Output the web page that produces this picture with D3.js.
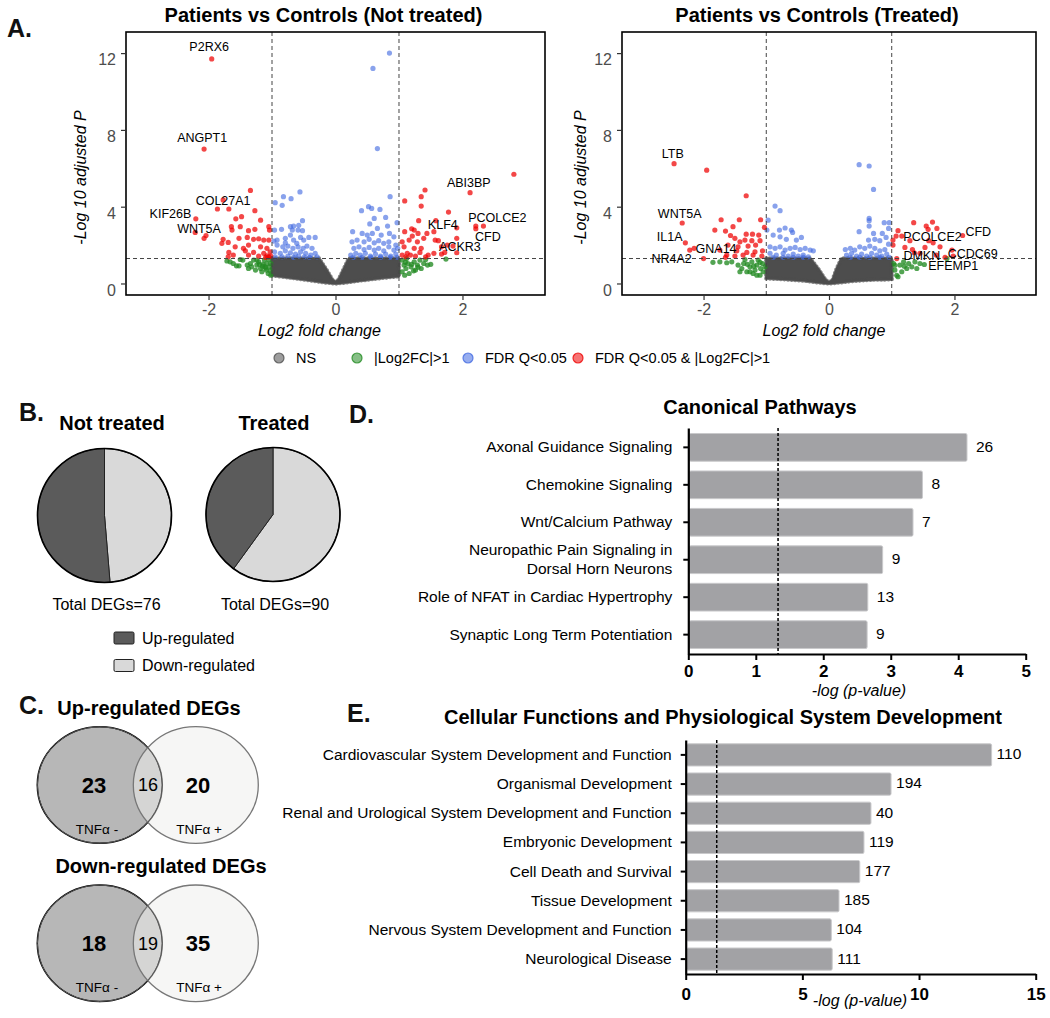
<!DOCTYPE html>
<html>
<head>
<meta charset="utf-8">
<script src="https://cdn.jsdelivr.net/npm/d3@7"></script>
<style>
  body { margin: 0; background: #fff; }
  svg { font-family: "Liberation Sans", Arial, Helvetica, sans-serif; }
</style>
</head>
<body>
<svg id="fig" width="1050" height="1018"></svg>
<script>
// ---------------- A. volcano plots ----------------
var volcanoTitles = ["Patients vs Controls (Not treated)", "Patients vs Controls (Treated)"];
var fcDomain = [-3.3, 3.3];
var pDomain = [-0.6, 13.1];
var fcTicks = [-2, 0, 2];
var pTicks = [0, 4, 8, 12];
var fcCut = 1, pCut = 1.3;
var legendLabels = ["NS", "|Log2FC|>1", "FDR Q<0.05", "FDR Q<0.05 & |Log2FC|>1"];

// dense non-significant cloud, outline of the point mass
var untreatedNsTop = [[-1.0,1.3],[-0.26,1.3],[-0.15,0.75],[-0.05,0.2],[0,0.08],[0.05,0.2],[0.13,0.75],[0.21,1.3],[1.0,1.3]];
var untreatedNsBottom = [[1.0,0.38],[0.7,0.28],[0.4,0.16],[0.15,0.05],[0,0],[-0.15,0.05],[-0.4,0.17],[-0.7,0.3],[-1.0,0.43]];
var treatedNsTop = [[-1.0,1.3],[-0.3,1.3],[-0.17,0.75],[-0.06,0.2],[0,0.05],[0.06,0.2],[0.12,0.75],[0.2,1.3],[1.0,1.3]];
var treatedNsBottom = [[1.0,0.22],[0.7,0.2],[0.4,0.14],[0.15,0.05],[0,0],[-0.15,0.05],[-0.4,0.15],[-0.7,0.22],[-1.0,0.27]];

var untreatedRed = [[-1.95,11.7],[-2.07,7.0],[-1.34,4.85],[-1.77,4.35],[-1.86,3.88],[-1.68,3.88],[-1.27,3.79],[-2.2,3.37],
  [-2.21,2.66],[-2.04,2.5],[-2.07,2.35],[-1.57,3.37],[-1.48,3.48],[-1.18,3.3],[-1.64,2.96],[-1.5,2.96],[-1.63,2.78],
  [-1.37,2.75],[-1.27,2.82],[-1.05,2.96],[-1.04,2.78],[-1.77,2.3],[-1.69,2.14],[-1.52,2.35],[-1.39,2.4],[-1.29,2.3],
  [-1.21,2.33],[-1.13,2.26],[-1.05,2.26],[-1.79,2.09],[-1.58,1.91],[-1.45,1.83],[-1.37,2.0],[-1.18,1.91],[-1.08,1.83],
  [-1.68,1.62],[-1.42,1.7],[-1.29,1.62],[-1.13,1.57],[-1.03,1.65],[-1.61,1.48],[-1.37,1.48],[-1.21,1.43],[-1.08,1.44],
  [-1.05,1.39],[-1.02,1.43],[-1.1,1.36],[-1.69,1.39],
  [2.81,5.69],[2.12,4.73],[1.41,4.87],[1.35,4.52],[1.09,4.3],[1.35,4.03],[1.78,3.72],[1.31,3.27],[1.58,3.27],[1.55,2.7],
  [1.91,2.9],[2.21,2.99],[2.33,2.99],[2.21,2.85],[1.2,2.85],[1.09,2.7],[1.24,2.78],[1.44,2.61],[1.21,2.47],[1.3,2.61],
  [1.39,2.35],[1.57,2.26],[1.62,2.23],[1.91,2.35],[1.05,2.17],[1.16,2.26],[1.29,2.17],[1.67,1.91],[1.76,2.0],[1.85,1.95],
  [1.08,1.91],[1.24,1.83],[1.35,1.83],[1.91,1.6],[1.55,1.57],[1.67,1.53],[1.72,1.62],[1.13,1.57],[1.18,1.48],[1.33,1.62],
  [1.46,1.48],[1.05,1.48],[1.11,1.39],[1.26,1.43],[1.42,1.39]];
var untreatedGreen = [[-1.71,1.17],[-1.66,1.13],[-1.61,1.04],[-1.56,0.92],[-1.52,0.92],[-1.5,1.25],[-1.39,0.96],[-1.37,0.78],
  [-1.34,1.04],[-1.32,0.87],[-1.29,1.22],[-1.26,0.7],[-1.24,0.96],[-1.21,1.13],[-1.18,0.78],[-1.16,0.61],[-1.14,1.0],
  [-1.12,1.22],[-1.11,0.87],[-1.09,0.7],[-1.08,1.04],[-1.06,0.52],[-1.05,1.25],[-1.04,0.87],[-1.03,0.66],[-1.02,1.04],
  [-1.02,0.43],[-1.24,1.22],[-1.46,1.22],[-1.2,1.0],[-1.1,0.8],[-1.15,0.9],
  [1.05,1.22],[1.08,0.96],[1.05,0.61],[1.11,0.78],[1.14,1.04],[1.16,0.52],[1.19,0.87],[1.24,1.13],[1.26,0.7],[1.29,0.96],
  [1.33,1.22],[1.35,0.78],[1.39,1.04],[1.42,1.25],[1.45,0.96],[1.5,1.0],[1.74,1.27],[1.12,1.3],[1.23,0.66],[1.09,0.43],
  [1.1,1.1],[1.2,1.0],[1.3,0.85]];
var untreatedBlue = [[-0.95,4.21],[-0.82,4.52],[-0.7,4.42],[-0.56,4.77],[-0.84,4.07],[-0.96,2.78],[-0.85,2.82],[-0.71,2.96],
  [-0.66,2.99],[-0.58,3.03],[-0.52,3.27],[-0.68,2.78],[-0.59,2.78],[-0.52,2.75],[-0.97,2.21],[-0.92,2.26],[-0.79,2.35],
  [-0.71,2.52],[-0.66,2.26],[-0.55,2.4],[-0.5,2.26],[-0.42,2.4],[-0.32,2.4],[-0.92,2.0],[-0.83,1.91],[-0.75,1.95],
  [-0.67,1.83],[-0.59,1.91],[-0.51,1.83],[-0.45,1.95],[-0.37,1.83],[-0.96,1.65],[-0.87,1.57],[-0.79,1.7],[-0.71,1.6],
  [-0.63,1.53],[-0.55,1.65],[-0.47,1.57],[-0.39,1.48],[-0.32,1.57],[-0.95,1.39],[-0.84,1.39],[-0.75,1.43],[-0.66,1.36],
  [-0.58,1.43],[-0.49,1.39],[-0.41,1.36],[-0.29,1.39],[-0.79,2.12],[-0.61,2.09],
  [0.85,12.0],[0.59,11.2],[0.66,7.03],[0.86,4.52],[0.41,3.79],[0.52,4.0],[0.57,3.91],[0.7,3.86],[0.79,3.44],[0.97,3.17],
  [0.61,3.39],[0.54,3.1],[0.66,2.87],[0.82,2.99],[0.27,2.7],[0.42,2.61],[0.5,2.52],[0.58,2.61],[0.72,2.52],[0.85,2.61],
  [0.92,2.43],[0.26,2.17],[0.34,2.26],[0.45,2.17],[0.53,2.3],[0.61,2.12],[0.68,2.23],[0.76,2.09],[0.84,2.17],[0.95,2.0],
  [0.29,1.83],[0.37,1.91],[0.45,1.77],[0.53,1.88],[0.61,1.74],[0.68,1.83],[0.76,1.7],[0.84,1.91],[0.92,1.74],[0.98,1.83],
  [0.24,1.48],[0.32,1.57],[0.39,1.48],[0.47,1.57],[0.55,1.43],[0.63,1.53],[0.71,1.43],[0.79,1.53],[0.87,1.43],[0.95,1.53],
  [0.28,1.36],[0.42,1.36],[0.56,1.36],[0.71,1.36],[0.86,1.36],[0.97,1.36]];
var untreatedGenes = [["P2RX6",-1.99,12.33],["ANGPT1",-2.1,7.6],["COL27A1",-1.77,4.31],["KIF26B",-2.6,3.65],["WNT5A",-2.15,2.87],
  ["ABI3BP",2.1,5.27],["KLF4",1.69,3.04],["PCOLCE2",2.55,3.42],["CFD",2.4,2.42],["ACKR3",1.96,1.93]];

var treatedRed = [[-2.47,6.24],[-1.95,5.9],[-1.32,4.57],[-2.34,3.15],[-2.29,2.12],[-2.22,1.74],[-2.15,1.83],[-2.0,1.3],
  [-1.72,3.32],[-1.43,3.32],[-1.09,3.32],[-1.03,2.92],[-1.82,2.78],[-1.65,2.73],[-1.53,2.96],[-1.57,2.5],[-1.5,2.35],
  [-1.32,2.57],[-1.22,2.57],[-1.12,2.52],[-1.42,2.17],[-1.34,2.26],[-1.23,2.23],[-1.1,2.23],[-1.61,2.0],[-1.45,1.91],
  [-1.29,1.95],[-1.17,2.0],[-1.74,1.74],[-1.47,1.7],[-1.31,1.62],[-1.18,1.65],[-1.06,1.7],[-1.63,1.48],[-1.5,1.43],
  [-1.37,1.48],[-1.21,1.48],[-1.07,1.43],[-1.65,1.36],
  [2.13,2.5],[1.35,3.17],[1.65,3.2],[1.55,2.99],[1.72,2.87],[1.58,2.82],[1.1,2.75],[1.07,2.47],[1.16,2.47],[1.02,2.26],
  [1.21,1.88],[1.29,2.23],[1.33,1.77],[1.53,1.88],[1.59,2.23],[1.66,2.12],[1.77,1.91],[1.96,1.74],[1.98,1.43],[1.36,1.6],
  [1.45,1.57],[1.71,1.48],[1.85,1.36],[1.08,1.3],[1.02,2.0]];
var treatedGreen = [[-1.85,1.1],[-1.74,1.13],[-1.63,1.08],[-1.55,1.13],[-1.45,0.96],[-1.39,0.78],[-1.36,1.04],[-1.31,0.61],
  [-1.26,0.87],[-1.23,1.13],[-1.21,0.52],[-1.18,0.7],[-1.15,0.96],[-1.13,1.22],[-1.1,0.43],[-1.09,0.78],[-1.06,1.04],
  [-1.05,0.61],[-1.02,0.87],[-1.26,0.61],[-1.42,0.61],[-1.15,0.43],[-1.34,1.25],[-1.3,1.0],[-1.2,0.9],[-1.1,1.1],
  [1.03,1.04],[1.05,0.7],[1.08,0.43],[1.13,0.96],[1.16,0.61],[1.19,1.13],[1.24,0.78],[1.27,1.04],[1.32,0.87],[1.37,1.13],
  [1.4,0.78],[1.45,1.04],[1.52,0.99],[1.1,0.35],[1.88,1.3],[1.05,0.95],[1.2,0.9]];
var treatedBlue = [[-0.86,4.03],[-0.78,3.79],[-0.7,2.89],[-0.79,2.78],[-0.6,2.78],[-0.58,2.66],[-0.97,3.3],[-0.99,2.78],
  [-0.89,2.52],[-0.78,2.43],[-0.68,2.3],[-0.52,2.26],[-0.44,2.4],[-0.94,1.91],[-0.86,1.83],[-0.78,1.91],[-0.7,1.74],
  [-0.62,1.83],[-0.54,1.88],[-0.46,1.77],[-0.38,1.83],[-0.3,1.74],[-0.25,1.7],[-0.94,1.57],[-0.84,1.48],[-0.73,1.57],
  [-0.65,1.43],[-0.57,1.53],[-0.49,1.43],[-0.41,1.48],[-0.33,1.39],[-0.89,1.36],[-0.73,1.36],[-0.57,1.36],[-0.41,1.36],
  [0.48,6.19],[0.64,6.12],[0.71,4.9],[0.64,3.39],[0.64,3.27],[0.64,2.99],[0.88,3.17],[0.96,3.17],[0.95,2.87],[0.48,2.7],
  [0.71,2.61],[0.85,2.61],[0.63,2.26],[0.73,2.3],[0.81,2.23],[0.91,2.4],[0.95,2.05],[0.26,1.77],[0.34,1.83],[0.41,1.74],
  [0.49,1.91],[0.57,1.83],[0.65,1.95],[0.73,1.83],[0.81,1.7],[0.89,1.77],[0.28,1.48],[0.36,1.57],[0.44,1.43],[0.52,1.53],
  [0.6,1.43],[0.68,1.57],[0.76,1.48],[0.84,1.43],[0.92,1.53],[0.34,1.36],[0.49,1.36],[0.65,1.36],[0.81,1.36],[0.96,1.36]];
var treatedGenes = [["LTB",-2.49,6.77],["WNT5A",-2.38,3.62],["IL1A",-2.54,2.42],["GNA14",-1.8,1.81],["NR4A2",-2.51,1.3],
  ["PCOLCE2",1.65,2.45],["CFD",2.38,2.71],["CCDC69",2.29,1.58],["DMKN",1.48,1.44],["EFEMP1",1.98,0.92]];

// ---------------- B. pies / C. venn ----------------
var pieTitles = ["Not treated", "Treated"];
var upCounts = [39, 36];
var downCounts = [37, 54];
var pieLegend = ["Up-regulated", "Down-regulated"];

var vennTitles = ["Up-regulated DEGs", "Down-regulated DEGs"];
var vennOnlyMinus = [23, 18];
var vennShared = [16, 19];
var vennOnlyPlus = [20, 35];
var vennSets = ["TNFα -", "TNFα +"];

// ---------------- D. / E. bar charts ----------------
var pathways = ["Axonal Guidance Signaling", "Chemokine Signaling", "Wnt/Calcium Pathway",
  "Neuropathic Pain Signaling in\nDorsal Horn Neurons", "Role of NFAT in Cardiac Hypertrophy", "Synaptic Long Term Potentiation"];
var pathwayScores = [4.13, 3.47, 3.33, 2.88, 2.66, 2.65];
var pathwayCounts = [26, 8, 7, 9, 13, 9];
var pathwayTicks = [0, 1, 2, 3, 4, 5];

var functions = ["Cardiovascular System Development and Function", "Organismal Development",
  "Renal and Urological System Development and Function", "Embryonic Development", "Cell Death and Survival",
  "Tissue Development", "Nervous System Development and Function", "Neurological Disease"];
var functionScores = [13.11, 8.8, 7.94, 7.64, 7.46, 6.57, 6.24, 6.28];
var functionCounts = [110, 194, 40, 119, 177, 185, 104, 111];
var functionTicks = [0, 5, 10, 15];
var pThreshold = 1.33;

var svg = d3.select("#fig");

function panelLetter(txt, x, y) {
  svg.append("text").attr("x", x).attr("y", y).text(txt)
    .attr("font-size", 25).attr("font-weight", "bold").attr("fill", "#111");
}

// ================= A =================
var colNS = "#4d4d4d", colGreen = "#228B22", colBlue = "#4169E1", colRed = "#EE0000";
var volTop = 32, volBottom = 295;

function drawVolcano(cfg) {
  var x = d3.scaleLinear().domain(fcDomain).range([cfg.left, cfg.right]);
  var y = d3.scaleLinear().domain(pDomain).range([volBottom, volTop]);
  var g = svg.append("g");
  var mid = (cfg.left + cfg.right) / 2;

  g.append("text").attr("x", mid - 12).attr("y", 22).attr("text-anchor", "middle")
    .attr("font-size", 20).attr("font-weight", "bold").text(cfg.title);

  // NS cloud: filled outline + dotted rim so the edge reads like packed points
  var line = d3.line().x(function(d) { return x(d[0]); }).y(function(d) { return y(d[1]); }).curve(d3.curveLinearClosed);
  var ns = cfg.nsTop.concat(cfg.nsBottom);
  g.append("path").datum(ns).attr("d", line)
    .attr("fill", colNS).attr("stroke", colNS).attr("stroke-width", 2).attr("stroke-linejoin", "round");
  g.append("path").datum(ns).attr("d", line)
    .attr("fill", "none").attr("stroke", colNS).attr("stroke-opacity", 0.7).attr("stroke-width", 4.5)
    .attr("stroke-linecap", "round").attr("stroke-dasharray", "0.1,3.5");

  var groups = [[cfg.green, colGreen, 0.78], [cfg.blue, colBlue, 0.62], [cfg.red, colRed, 0.72]];
  groups.forEach(function(gr) {
    g.append("g").selectAll("circle").data(gr[0]).enter().append("circle")
      .attr("cx", function(d) { return x(d[0]); })
      .attr("cy", function(d) { return y(d[1]); })
      .attr("r", 2.6).attr("fill", gr[1]).attr("fill-opacity", gr[2]);
  });

  // cut-off lines
  [-fcCut, fcCut].forEach(function(v) {
    g.append("line").attr("x1", x(v)).attr("x2", x(v)).attr("y1", volTop).attr("y2", volBottom)
      .attr("stroke", "#444").attr("stroke-width", 1).attr("stroke-dasharray", "4,3");
  });
  g.append("line").attr("x1", cfg.left).attr("x2", cfg.right).attr("y1", y(pCut)).attr("y2", y(pCut))
    .attr("stroke", "#444").attr("stroke-width", 1).attr("stroke-dasharray", "4,3");

  // gene labels
  g.selectAll("text.gene").data(cfg.genes).enter().append("text")
    .attr("x", function(d) { return x(d[1]); }).attr("y", function(d) { return y(d[2]); })
    .attr("dy", "0.35em").attr("text-anchor", "middle").attr("font-size", 12.5).attr("fill", "#000")
    .text(function(d) { return d[0]; });

  // frame
  g.append("rect").attr("x", cfg.left).attr("y", volTop).attr("width", cfg.right - cfg.left)
    .attr("height", volBottom - volTop).attr("fill", "none").attr("stroke", "#000").attr("stroke-width", 1.6);

  var ax = g.append("g").attr("transform", "translate(0," + volBottom + ")")
    .call(d3.axisBottom(x).tickValues(fcTicks).tickSize(5).tickPadding(4).tickFormat(function(d) { return String(d); }));
  var ay = g.append("g").attr("transform", "translate(" + cfg.left + ",0)")
    .call(d3.axisLeft(y).tickValues(pTicks).tickSize(5).tickPadding(5).tickFormat(function(d) { return String(d); }));
  [ax, ay].forEach(function(a) {
    a.select(".domain").remove();
    a.selectAll("line").attr("stroke", "#333").attr("stroke-width", 1.2);
    a.selectAll("text").attr("font-size", 16).attr("fill", "#4d4d4d").attr("font-family", null);
  });
  ay.selectAll("text").attr("dy", "0.72em");

  g.append("text").attr("x", mid + cfg.xLabelShift).attr("y", 336).attr("text-anchor", "middle")
    .attr("font-size", 16).attr("font-style", "italic").text("Log2 fold change");
  g.append("text").attr("transform", "translate(" + (cfg.left - cfg.yLabelGap) + "," + ((volTop + volBottom) / 2 + 14) + ") rotate(-90)")
    .attr("text-anchor", "middle").attr("font-size", 16).attr("font-style", "italic").text("-Log 10 adjusted P");
}

drawVolcano({title: volcanoTitles[0], left: 126, right: 545, red: untreatedRed, green: untreatedGreen, blue: untreatedBlue,
  nsTop: untreatedNsTop, nsBottom: untreatedNsBottom, genes: untreatedGenes, xLabelShift: -16, yLabelGap: 40});
drawVolcano({title: volcanoTitles[1], left: 622, right: 1036, red: treatedRed, green: treatedGreen, blue: treatedBlue,
  nsTop: treatedNsTop, nsBottom: treatedNsBottom, genes: treatedGenes, xLabelShift: -5, yLabelGap: 36});
panelLetter("A.", 7, 37);

// volcano legend
var legX = [279, 357, 468, 578];
var legCols = [colNS, colGreen, colBlue, colRed];
var leg = svg.append("g");
leg.selectAll("circle").data(legendLabels).enter().append("circle")
  .attr("cx", function(d, i) { return legX[i]; }).attr("cy", 358).attr("r", 5)
  .attr("fill", function(d, i) { return legCols[i]; }).attr("fill-opacity", 0.55)
  .attr("stroke", function(d, i) { return legCols[i]; }).attr("stroke-opacity", 0.8).attr("stroke-width", 1.2);
leg.selectAll("text").data(legendLabels).enter().append("text")
  .attr("x", function(d, i) { return legX[i] + 17; }).attr("y", 363).attr("font-size", 14.5).text(function(d) { return d; });

// ================= B =================
panelLetter("B.", 19, 421);
var pieCenters = [[104.5, 515.5], [273, 514.5]];
var pie = d3.pie().sort(null).value(function(d) { return d.v; });
var arc = d3.arc().innerRadius(0).outerRadius(67);
pieTitles.forEach(function(t, i) {
  var c = pieCenters[i];
  var gp = svg.append("g").attr("transform", "translate(" + c[0] + "," + c[1] + ")");
  gp.selectAll("path").data(pie([{k: "down", v: downCounts[i]}, {k: "up", v: upCounts[i]}])).enter().append("path")
    .attr("d", arc).attr("fill", function(d) { return d.data.k === "up" ? "#5b5b5b" : "#d9d9d9"; })
    .attr("stroke", "#222").attr("stroke-width", 1);
  gp.append("circle").attr("r", 67).attr("fill", "none").attr("stroke", "#000").attr("stroke-width", 1.6);
  svg.append("text").attr("x", i === 0 ? 112 : 274).attr("y", 430).attr("text-anchor", "middle")
    .attr("font-size", 20).attr("font-weight", "bold").text(t);
  svg.append("text").attr("x", c[0] + 2).attr("y", 610).attr("text-anchor", "middle").attr("font-size", 16)
    .text("Total DEGs=" + (upCounts[i] + downCounts[i]));
});
var pieLeg = svg.append("g");
pieLeg.selectAll("rect").data(pieLegend).enter().append("rect")
  .attr("x", 114).attr("y", function(d, i) { return 632 + i * 27.5; }).attr("width", 20).attr("height", 12).attr("rx", 1.5)
  .attr("fill", function(d, i) { return i === 0 ? "#5b5b5b" : "#d9d9d9"; }).attr("stroke", "#222").attr("stroke-width", 1);
pieLeg.selectAll("text").data(pieLegend).enter().append("text")
  .attr("x", 142).attr("y", function(d, i) { return 643.5 + i * 27; }).attr("font-size", 16).text(function(d) { return d; });

// ================= C =================
panelLetter("C.", 19, 714);
var vennRows = [785, 943.3];
var vennTitleY = [715, 873];
var vennTitleX = [149, 161];
vennTitles.forEach(function(t, i) {
  var cy = vennRows[i];
  var gv = svg.append("g");
  gv.append("text").attr("x", vennTitleX[i]).attr("y", vennTitleY[i]).attr("text-anchor", "middle")
    .attr("font-size", 20).attr("font-weight", "bold").text(t);
  gv.append("ellipse").attr("cx", 99.8).attr("cy", cy).attr("rx", 62.5).attr("ry", 58.3)
    .attr("fill", "#b7b7b7").attr("stroke", "#000").attr("stroke-width", 1.5);
  gv.append("ellipse").attr("cx", 195.8).attr("cy", cy).attr("rx", 62.5).attr("ry", 58.3)
    .attr("fill", "#efefec").attr("fill-opacity", 0.55).attr("stroke", "#777").attr("stroke-width", 1.3);
  gv.append("ellipse").attr("cx", 99.8).attr("cy", cy).attr("rx", 62.5).attr("ry", 58.3)
    .attr("fill", "none").attr("stroke", "#555").attr("stroke-width", 1);
  gv.append("text").attr("x", 94).attr("y", cy).attr("dy", "0.36em").attr("text-anchor", "middle")
    .attr("font-size", 22).attr("font-weight", "bold").text(vennOnlyMinus[i]);
  gv.append("text").attr("x", 148).attr("y", cy).attr("dy", "0.36em").attr("text-anchor", "middle")
    .attr("font-size", 18).text(vennShared[i]);
  gv.append("text").attr("x", 198).attr("y", cy).attr("dy", "0.36em").attr("text-anchor", "middle")
    .attr("font-size", 22).attr("font-weight", "bold").text(vennOnlyPlus[i]);
  gv.append("text").attr("x", 97).attr("y", cy + 44).attr("dy", "0.36em").attr("text-anchor", "middle")
    .attr("font-size", 13.5).text(vennSets[0]);
  gv.append("text").attr("x", 199).attr("y", cy + 44).attr("dy", "0.36em").attr("text-anchor", "middle")
    .attr("font-size", 13.5).text(vennSets[1]);
});

// ================= D / E =================
function drawBars(cfg) {
  var x = d3.scaleLinear().domain([0, cfg.max]).range([cfg.x0, cfg.x1]);
  var y = d3.scaleBand().domain(cfg.names).range([cfg.top, cfg.bottom])
    .paddingInner(cfg.pi).paddingOuter(cfg.po);
  var g = svg.append("g");

  g.append("text").attr("x", cfg.titleX).attr("y", cfg.titleY).attr("text-anchor", "middle")
    .attr("font-size", 20).attr("font-weight", "bold").text(cfg.title);

  g.selectAll("rect.bar").data(cfg.names).enter().append("rect")
    .attr("x", x(0) + 1).attr("y", function(d) { return y(d); })
    .attr("width", function(d, i) { return x(cfg.scores[i]) - x(0) - 1; })
    .attr("height", y.bandwidth()).attr("rx", 1.5)
    .attr("fill", "#a2a2a5").attr("stroke", "#c9c9cb").attr("stroke-width", 1);

  g.selectAll("text.count").data(cfg.names).enter().append("text")
    .attr("x", function(d, i) { return x(cfg.scores[i]) + cfg.gap; })
    .attr("y", function(d) { return y(d) + y.bandwidth() / 2 - 1; })
    .attr("dy", "0.35em").attr("font-size", 15.5)
    .text(function(d, i) { return cfg.counts[i]; });

  g.append("line").attr("x1", x(pThreshold)).attr("x2", x(pThreshold)).attr("y1", cfg.top).attr("y2", cfg.bottom)
    .attr("stroke", "#000").attr("stroke-width", 1.5).attr("stroke-dasharray", "3,2");

  var ax = g.append("g").attr("transform", "translate(0," + cfg.bottom + ")")
    .call(d3.axisBottom(x).tickValues(cfg.ticks).tickSize(6).tickSizeOuter(0).tickPadding(cfg.tickPad).tickFormat(d3.format("d")));
  ax.selectAll("text").attr("font-size", 17).attr("font-weight", "bold").attr("fill", "#000");

  var ay = g.append("g").attr("transform", "translate(" + x(0) + ",0)")
    .call(d3.axisLeft(y).tickSize(5).tickSizeOuter(0).tickPadding(cfg.labelPad));
  ay.selectAll("text").attr("font-size", 15.5).attr("fill", "#000").each(function(d) {
    var parts = d.split("\n");
    if (parts.length > 1) {
      var t = d3.select(this).text(null).attr("dy", null);
      parts.forEach(function(p, k) {
        t.append("tspan").attr("x", -cfg.labelPad - 5).attr("dy", k === 0 ? "-0.28em" : "1.2em").text(p);
      });
    }
  });
  [ax, ay].forEach(function(a) {
    a.selectAll("line").attr("stroke", "#000").attr("stroke-width", 2);
    a.select(".domain").attr("stroke", "#000").attr("stroke-width", 2.2);
    a.selectAll("text").attr("font-family", null);
  });

  g.append("text").attr("x", cfg.xLabelX).attr("y", cfg.xLabelY).attr("text-anchor", "middle")
    .attr("font-size", 16).attr("font-style", "italic").text("-log (p-value)");
}

panelLetter("D.", 349, 423);
drawBars({title: "Canonical Pathways", titleX: 760, titleY: 414, names: pathways, scores: pathwayScores,
  counts: pathwayCounts, ticks: pathwayTicks, max: 5, x0: 688.3, x1: 1025.7, top: 428, bottom: 654,
  pi: 0.26, po: 0.147, gap: 9, tickPad: 5, labelPad: 11, xLabelX: 859, xLabelY: 696});

panelLetter("E.", 347, 722);
drawBars({title: "Cellular Functions and Physiological System Development", titleX: 723, titleY: 724,
  names: functions, scores: functionScores, counts: functionCounts, ticks: functionTicks, max: 15,
  x0: 685.7, x1: 1035.7, top: 740, bottom: 974, pi: 0.239, po: 0.13, gap: 5, tickPad: 8, labelPad: 9,
  xLabelX: 860, xLabelY: 1006});
</script>
</body>
</html>
